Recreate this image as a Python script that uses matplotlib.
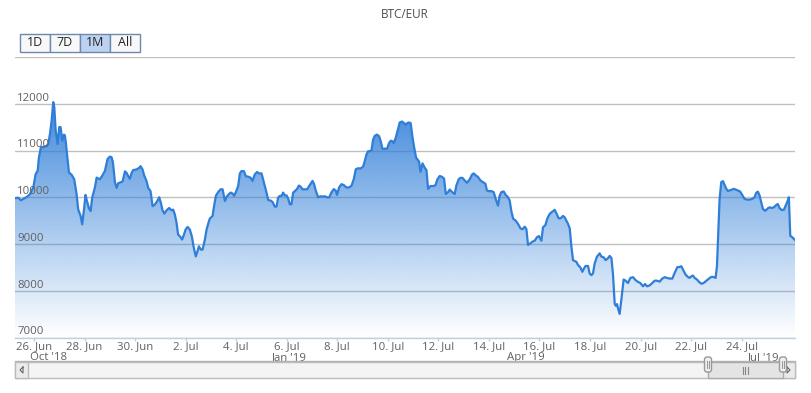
import datetime as dt
import numpy as np
import matplotlib
matplotlib.use("Agg")
import matplotlib.pyplot as plt
import matplotlib.dates as mdates
from matplotlib.patches import Rectangle, FancyBboxPatch
from matplotlib.transforms import blended_transform_factory
import matplotlib.colors as mcolors

plt.rcParams["font.family"] = ["Open Sans", "DejaVu Sans"]

# ---------------- data ----------------
title = "BTC/EUR"
range_buttons = ["1D", "7D", "1M", "All"]
selected_button = "1M"

series_start = dt.datetime(2019, 6, 26, 0, 0)
# hours since 26 Jun 2019 00:00
hours = [
    -18.0, -14.9, -12.3, -10.1, -6.9, -3.8, -0.6, 1.6, 3.5, 4.7, 6.6, 9.8, 12.0, 13.6, 15.2, 16.8,
    18.3, 19.3, 20.6, 22.5, 24.0, 25.3, 26.9, 28.5, 29.4, 30.4, 32.0, 33.2, 35.8, 38.2, 40.5, 42.0,
    44.3, 45.8, 47.5, 49.0, 50.3, 52.2, 53.8, 55.3, 57.9, 59.5, 62.6, 64.8, 67.4, 69.9, 72.1, 73.7,
    75.0, 76.9, 78.5, 80.0, 82.3, 84.2, 86.4, 88.0, 89.5, 91.1, 92.7, 94.2, 97.4, 99.9, 101.2, 103.1,
    104.7, 106.9, 108.5, 110.7, 112.6, 114.8, 117.0, 118.9, 120.5, 122.1, 123.7, 125.9, 128.4, 130.6,
    132.2, 133.8, 135.4, 136.9, 138.6, 140.7, 142.4, 144.0, 145.9, 148.0, 149.9, 151.8, 153.7, 155.3,
    156.6, 158.5, 160.1, 162.3, 163.9, 166.1, 167.0, 169.6, 170.8, 172.7, 174.9, 177.2, 179.1, 181.3,
    182.9, 184.4, 186.7, 188.6, 190.1, 191.7, 193.9, 195.5, 197.1, 199.3, 201.2, 203.4, 205.6, 207.5,
    209.7, 211.9, 213.8, 216.1, 217.6, 219.2, 220.8, 222.4, 224.6, 226.5, 228.7, 230.3, 231.8, 233.5,
    235.1, 236.6, 238.2, 239.8, 241.4, 242.9, 244.5, 246.1, 247.7, 249.9, 251.5, 253.1, 255.0, 257.2,
    259.4, 261.3, 264.5, 266.0, 267.6, 269.8, 272.1, 274.0, 276.2, 278.4, 280.3, 282.5, 284.7, 286.6,
    287.8, 289.7, 292.0, 294.2, 296.7, 299.2, 301.5, 303.7, 305.6, 307.8, 310.1, 312.5, 314.1, 315.7,
    317.3, 318.9, 320.5, 322.0, 323.6, 325.8, 327.7, 329.3, 330.9, 333.1, 335.3, 337.2, 338.8, 340.4,
    341.6, 343.5, 345.1, 347.3, 349.5, 351.4, 353.0, 354.2, 356.1, 357.7, 359.3, 360.8, 362.8, 365.7,
    367.0, 368.9, 371.1, 372.7, 374.2, 376.5, 379.0, 381.2, 383.1, 385.3, 387.5, 389.4, 391.0, 393.2,
    394.8, 396.4, 397.9, 399.5, 401.1, 403.3, 404.9, 406.8, 409.0, 411.2, 413.8, 415.9, 417.5, 419.4,
    421.6, 423.9, 426.3, 428.6, 430.1, 432.0, 434.4, 436.5, 438.4, 440.6, 442.2, 443.8, 446.0, 447.9,
    450.1, 451.7, 453.3, 455.0, 457.4, 459.6, 461.9, 463.8, 466.0, 467.6, 469.1, 471.4, 473.3, 475.4,
    477.6, 479.5, 481.8, 483.3, 485.6, 487.5, 489.7, 492.3, 494.5, 496.1, 498.2, 500.1, 502.3, 503.9,
    505.5, 507.1, 508.7, 510.3, 511.8, 513.4, 515.0, 516.6, 518.8, 520.7, 522.3, 523.8, 526.1, 527.6,
    529.3, 530.8, 532.4, 534.6, 537.1, 538.8, 540.9, 542.8, 545.0, 546.6, 548.3, 549.8, 551.4, 552.3,
    553.6, 554.5, 556.1, 557.7, 559.9, 561.8, 564.0, 566.3, 568.8, 571.3, 573.5, 575.7, 578.3, 580.2,
    582.1, 584.6, 587.1, 589.3, 591.5, 594.1, 596.3, 598.8, 601.0, 603.6, 606.1, 608.3, 610.9, 613.1,
    614.6, 616.2, 618.7, 620.9, 622.5, 624.2, 625.7, 627.3, 629.5, 631.4, 633.7, 635.8, 638.4, 640.9,
    643.1, 645.3, 647.2, 648.5, 649.4, 651.0, 652.6, 654.2, 655.8, 657.4, 658.9, 660.5, 662.7, 664.6,
    666.2, 668.4, 670.6, 672.5, 674.7, 676.9, 679.5, 682.0, 684.2, 685.8, 687.4, 689.0, 690.6, 692.1,
    694.4, 696.9, 698.5, 700.6, 702.5, 704.8, 706.3, 708.0, 710.2, 712.1, 713.7, 715.3, 716.8, 718.1,
    719.7, 721.3, 722.6,
]
eur = [
    9980, 9990, 9935, 9965, 10005, 10065, 10210, 10495, 10565, 10850, 11070, 11080, 11100, 11140, 11355, 11640,
    12035, 11930, 11430, 11140, 11500, 11500, 11210, 11340, 11320, 11140, 10780, 10530, 10480, 10385, 10065, 9740,
    9600, 9420, 9740, 10050, 9920, 9765, 9705, 9990, 10210, 10420, 10385, 10460, 10565, 10820, 10870, 10855,
    10745, 10320, 10200, 10300, 10320, 10340, 10555, 10520, 10450, 10395, 10520, 10580, 10595, 10630, 10665, 10595,
    10465, 10345, 10200, 10130, 9810, 9845, 9915, 10000, 9880, 9720, 9650, 9720, 9770, 9720,
    9735, 9630, 9450, 9200, 9165, 9095, 9200, 9310, 9365, 9310, 9165, 8915, 8735, 8845,
    8950, 8880, 8880, 9095, 9310, 9485, 9545, 9600, 9780, 10030, 10110, 10170, 10170, 9920,
    10010, 10050, 10100, 10080, 10030, 10110, 10240, 10510, 10560, 10560, 10450, 10440, 10420, 10350,
    10490, 10540, 10510, 10510, 10380, 10240, 10100, 9940, 9930, 9900, 9800, 9800, 9990, 10030,
    10030, 10100, 10040, 10040, 9970, 9850, 9850, 10100, 10130, 10180, 10250, 10230, 10170, 10170,
    10170, 10240, 10350, 10280, 10140, 10000, 10020, 10015, 10020, 10000, 9995, 10105, 10175, 10140,
    10050, 10210, 10280, 10260, 10210, 10210, 10245, 10390, 10600, 10620, 10615, 10655, 10775, 10915,
    10985, 10985, 11005, 11230, 11315, 11340, 11305, 11195, 11035, 11040, 11040, 11160, 11210, 11195,
    11160, 11270, 11410, 11600, 11620, 11585, 11550, 11585, 11600, 11585, 11305, 11090, 10850, 10760,
    10545, 10725, 10630, 10580, 10180, 10240, 10240, 10255, 10385, 10455, 10435, 10400, 10070, 10110,
    10165, 10125, 10095, 10070, 10255, 10385, 10415, 10415, 10360, 10310, 10385, 10485, 10510, 10470,
    10435, 10360, 10325, 10290, 10145, 10130, 10130, 10110, 9965, 9820, 10035, 10110, 10125, 10050,
    10000, 9930, 9700, 9540, 9500, 9430, 9335, 9315, 9370, 9315, 8980, 9015, 9050, 9070,
    9145, 9170, 9070, 9355, 9405, 9550, 9645, 9695, 9730, 9655, 9550, 9550, 9600, 9570,
    9500, 9430, 9335, 8945, 8655, 8635, 8620, 8550, 8500, 8405, 8480, 8530, 8530, 8370,
    8335, 8370, 8585, 8730, 8800, 8730, 8715, 8655, 8695, 8745, 8700, 8350, 7720, 7680,
    7715, 7625, 7505, 7805, 8240, 8215, 8165, 8275, 8290, 8225, 8190, 8165, 8095, 8145,
    8095, 8115, 8165, 8215, 8215, 8195, 8255, 8290, 8275, 8260, 8260, 8380, 8505, 8510,
    8525, 8455, 8345, 8295, 8275, 8310, 8325, 8275, 8240, 8190, 8150, 8165, 8215, 8260,
    8295, 8295, 8275, 8525, 9030, 9965, 10325, 10345, 10265, 10180, 10135, 10145, 10165, 10180,
    10165, 10145, 10120, 10050, 9965, 9950, 9950, 9965, 10000, 10095, 10120, 10035, 9890, 9750,
    9710, 9765, 9785, 9770, 9785, 9835, 9855, 9765, 9725, 9735, 9820, 9905, 10000, 9175,
    9150, 9115, 9085,
]

y_ticks = [7000, 8000, 9000, 10000, 11000, 12000, 13000]
y_tick_labels = ["7000", "8000", "9000", "10000", "11000", "12000", ""]
y_range = (7000, 13000)

x_tick_dates = ["2019-06-26", "2019-06-28", "2019-06-30", "2019-07-02", "2019-07-04",
                "2019-07-06", "2019-07-08", "2019-07-10", "2019-07-12", "2019-07-14",
                "2019-07-16", "2019-07-18", "2019-07-20", "2019-07-22", "2019-07-24"]
x_tick_labels = ["26. Jun", "28. Jun", "30. Jun", "2. Jul", "4. Jul", "6. Jul", "8. Jul",
                 "10. Jul", "12. Jul", "14. Jul", "16. Jul", "18. Jul", "20. Jul", "22. Jul", "24. Jul"]
view_start_hours = -18.0
view_end_hours = 722.6

nav_tick_dates = ["2018-10-01", "2019-01-01", "2019-04-01", "2019-07-01"]
nav_tick_labels = ["Oct '18", "Jan '19", "Apr '19", "Jul '19"]
nav_range = ("2018-09-18", "2019-07-13")

# ---------------- figure ----------------
W, H = 811, 393
fig = plt.figure(figsize=(W / 100, H / 100), dpi=100)
fig.patch.set_facecolor("white")


def px_rect(x0, y0, x1, y1):
    return [x0 / W, 1 - y1 / H, (x1 - x0) / W, (y1 - y0) / H]


line_color = "#2f7ed8"
label_color = "#606060"
fs = 8.2

ax = fig.add_axes(px_rect(15, 57, 795, 337.5))
ax.set_facecolor("none")

t = mdates.date2num([series_start + dt.timedelta(hours=h) for h in hours])
x0 = mdates.date2num(series_start + dt.timedelta(hours=view_start_hours))
x1 = mdates.date2num(series_start + dt.timedelta(hours=view_end_hours))

# gridlines
ax.set_yticks(y_ticks)
ax.yaxis.grid(True, color="#C0C0C0", lw=1, zorder=0)
ax.set_axisbelow(True)
ax.tick_params(axis="y", length=0, labelleft=False)

# gradient area
fill = ax.fill_between(t, eur, y_range[0], facecolor="none", edgecolor="none")
n = 256
rgba = np.zeros((n, 1, 4))
rgba[..., :3] = mcolors.to_rgb(line_color)
rgba[..., 3] = np.linspace(0.92, 0.0, n)[:, None]
im = ax.imshow(rgba, extent=[t[0], t[-1], y_range[0], max(eur)], aspect="auto",
               origin="upper", zorder=1, interpolation="bilinear")
im.set_clip_path(fill.get_paths()[0], transform=ax.transData)

ax.plot(t, eur, color=line_color, lw=1.6, zorder=3, solid_joinstyle="round")

ax.set_xlim(x0, x1)
ax.set_ylim(*y_range)

# y labels inside plot, above gridlines
trans = blended_transform_factory(ax.transAxes, ax.transData)
for v, lab in zip(y_ticks, y_tick_labels):
    if lab:
        ax.text(0.003, v, lab, transform=trans, ha="left", va="bottom",
                fontsize=fs, color=label_color, zorder=4)

for s in ["top", "left", "right"]:
    ax.spines[s].set_visible(False)
ax.spines["bottom"].set_color("#C0D0E0")
ax.spines["bottom"].set_linewidth(1)
ax.set_xticks(mdates.date2num([dt.datetime.strptime(d, "%Y-%m-%d") for d in x_tick_dates]))
ax.set_xticklabels(x_tick_labels)
ax.tick_params(axis="x", length=2.5, width=1, color="#C0D0E0", pad=0.3,
               labelsize=fs, labelcolor=label_color)

# navigator axis labels
ax_nav = fig.add_axes(px_rect(15, 342, 795, 352))
ax_nav.set_facecolor("none")
for s in ax_nav.spines.values():
    s.set_visible(False)
ax_nav.set_xlim(mdates.date2num(dt.datetime.strptime(nav_range[0], "%Y-%m-%d")),
                mdates.date2num(dt.datetime.strptime(nav_range[1], "%Y-%m-%d")))
ax_nav.set_xticks(mdates.date2num([dt.datetime.strptime(d, "%Y-%m-%d") for d in nav_tick_dates]))
ax_nav.set_xticklabels(nav_tick_labels)
ax_nav.set_yticks([])
ax_nav.tick_params(axis="x", length=0, pad=0, labelsize=fs, labelcolor=label_color)

# ---------------- UI overlay (title, buttons, scrollbar) ----------------
ui = fig.add_axes([0, 0, 1, 1])
ui.set_xlim(0, W)
ui.set_ylim(H, 0)
ui.axis("off")
ui.patch.set_alpha(0)

ui.text(405, 14, title, ha="center", va="center", fontsize=8.5, color="#4d4d4d")

for i, lab in enumerate(range_buttons):
    bx = 20 + 30 * i
    sel = lab == selected_button
    ui.add_patch(Rectangle((bx, 33.5), 30, 18.5, facecolor="#bcd2f0" if sel else "#f8f8f8",
                           edgecolor="#6d88ad", lw=1, zorder=5))
    ui.text(bx + 15, 43, lab, ha="center", va="center", fontsize=9, color="#222222", zorder=6)

# scrollbar
ui.plot([15, 795], [361, 361], color="#b2b1b6", lw=1, zorder=4)
ui.add_patch(Rectangle((15, 362), 780, 16, facecolor="#f4f4f4", edgecolor="#bbbbbb", lw=1, zorder=4))
ui.add_patch(Rectangle((15, 362), 13, 16, facecolor="#ebebeb", edgecolor="#bbbbbb", lw=1, zorder=5))
ui.add_patch(Rectangle((782, 362), 13, 16, facecolor="#ebebeb", edgecolor="#bbbbbb", lw=1, zorder=5))
ui.plot([23, 20, 23, 23], [367, 370, 373, 367], color="#666666", lw=0.8, zorder=6)
ui.plot([787, 790, 787, 787], [367, 370, 373, 367], color="#666666", lw=0.8, zorder=6)
ui.add_patch(Rectangle((708, 362), 75, 16, facecolor="#e4e4e4", edgecolor="#aaaaaa", lw=1, zorder=5))
for gx in (742.5, 745, 747.5):
    ui.plot([gx, gx], [366.5, 373.5], color="#888888", lw=0.8, zorder=6)
for hx in (708, 783):
    ui.add_patch(FancyBboxPatch((hx - 3.5, 357), 7, 15, boxstyle="round,pad=0,rounding_size=2.5",
                                facecolor="#f2f2f2", edgecolor="#999999", lw=1, zorder=7))
    for dx in (-1, 1):
        ui.plot([hx + dx, hx + dx], [361, 368], color="#999999", lw=0.8, zorder=8)

fig.savefig("out.png", dpi=100, facecolor="white")
